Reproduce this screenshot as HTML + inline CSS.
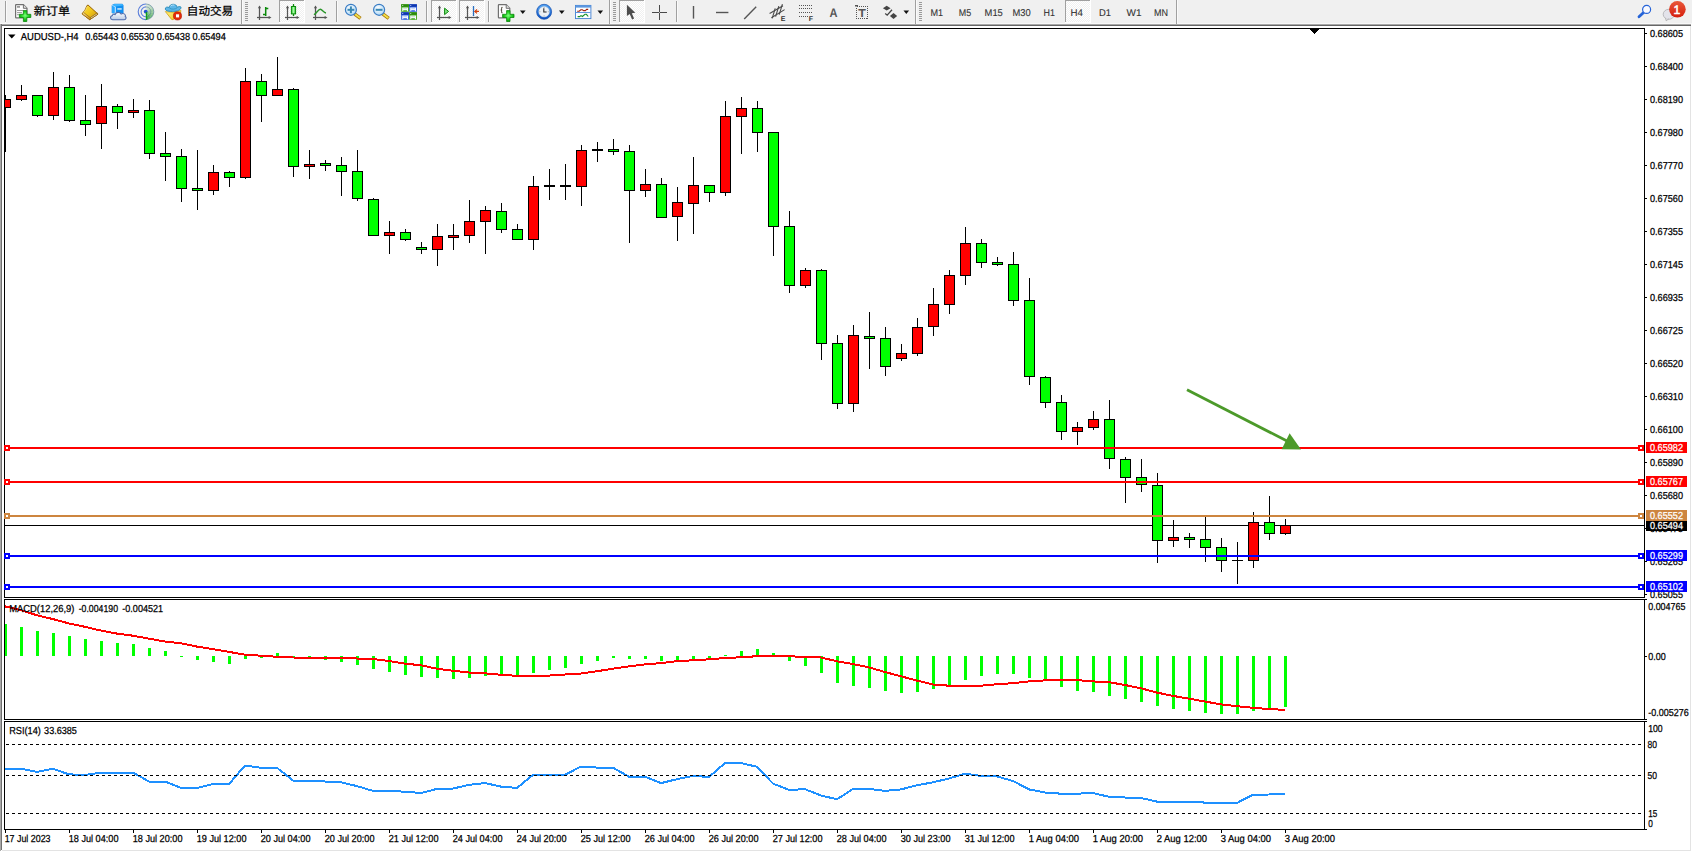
<!DOCTYPE html>
<html lang="zh-CN"><head><meta charset="utf-8"><title>AUDUSD-,H4</title>
<style>html,body{margin:0;padding:0;background:#fff;overflow:hidden}svg{display:block}text{font-family:'Liberation Sans', 'Noto Sans CJK SC', sans-serif;text-rendering:geometricPrecision;}</style>
</head><body>
<svg width="1692" height="852" viewBox="0 0 1692 852">
<rect x="0" y="0" width="1692" height="852" fill="#fff"/>
<defs>
<linearGradient id="gGold" x1="0" y1="0" x2="1" y2="1"><stop offset="0" stop-color="#f7d94a"/><stop offset="0.45" stop-color="#f2c91c"/><stop offset="1" stop-color="#c8900e"/></linearGradient>
<linearGradient id="gGreen" x1="0" y1="0" x2="0" y2="1"><stop offset="0" stop-color="#4be34b"/><stop offset="1" stop-color="#0a9a0a"/></linearGradient>
<linearGradient id="gCandle" x1="0" y1="0" x2="1" y2="0"><stop offset="0" stop-color="#22cc22"/><stop offset="0.5" stop-color="#a6f5a6"/><stop offset="1" stop-color="#22cc22"/></linearGradient>
<linearGradient id="gBlue" x1="0" y1="0" x2="0" y2="1"><stop offset="0" stop-color="#5ab4ff"/><stop offset="1" stop-color="#0a6ae0"/></linearGradient>
<linearGradient id="gCloud" x1="0" y1="0" x2="0" y2="1"><stop offset="0" stop-color="#ffffff"/><stop offset="1" stop-color="#b9cbe6"/></linearGradient>
<linearGradient id="gRed" x1="0" y1="0" x2="0" y2="1"><stop offset="0" stop-color="#e9583a"/><stop offset="1" stop-color="#d51d0c"/></linearGradient>
<linearGradient id="gBand" x1="0" y1="0" x2="0" y2="1"><stop offset="0" stop-color="#b4b4b4"/><stop offset="1" stop-color="#5f5f5f"/></linearGradient>
<radialGradient id="gLens" cx="0.4" cy="0.35" r="0.7"><stop offset="0" stop-color="#ffffff"/><stop offset="1" stop-color="#a9d6f7"/></radialGradient>
<linearGradient id="gYel" x1="0" y1="0" x2="1" y2="1"><stop offset="0" stop-color="#fff588"/><stop offset="1" stop-color="#f0c21a"/></linearGradient>
<linearGradient id="gClock" x1="0" y1="0" x2="0" y2="1"><stop offset="0" stop-color="#56a8f5"/><stop offset="1" stop-color="#0b4fc0"/></linearGradient>
<radialGradient id="gPlus" cx="0.5" cy="0.45" r="0.6"><stop offset="0" stop-color="#7dff7d"/><stop offset="0.55" stop-color="#22d022"/><stop offset="1" stop-color="#0a8f0a"/></radialGradient>
<linearGradient id="gSpine" x1="0" y1="0" x2="1" y2="1"><stop offset="0" stop-color="#fbe9a0"/><stop offset="1" stop-color="#c88a10"/></linearGradient>
<pattern id="pChk" x="0" y="0" width="2" height="2" patternUnits="userSpaceOnUse"><rect width="2" height="2" fill="#f0f0f0"/><rect x="0" y="0" width="1" height="1" fill="#fff"/><rect x="1" y="1" width="1" height="1" fill="#fff"/></pattern>
</defs>
<rect x="0" y="0" width="1692" height="24" fill="#f0f0f0"/>
<rect x="0" y="23" width="1692" height="1" fill="#f8f8f8"/>
<rect x="0" y="24" width="1691" height="1" fill="#a8a8a8"/>
<rect x="0" y="25" width="1691" height="1" fill="#666666"/>
<rect x="5" y="1" width="1" height="21" fill="#a0a0a0" shape-rendering="crispEdges"/>
<rect x="6" y="1" width="1" height="21" fill="#fafafa" shape-rendering="crispEdges"/>
<path d="M16.2 4.7 h7.2 l3.6 3.6 v9 q0 0.6 -0.6 0.6 h-10.2 q-0.6 0 -0.6 -0.6 v-12 q0 -0.6 0.6 -0.6 z" fill="#fcfcfc" stroke="#707070" stroke-width="1.2"/>
<path d="M23.4 4.7 v3.6 h3.6" fill="#dedede" stroke="#707070" stroke-width="1"/>
<rect x="17" y="6.1" width="3" height="1.6" fill="#8e8e8e"/>
<rect x="17" y="10" width="7" height="1" fill="#9a9a9a"/><rect x="17" y="12.1" width="5" height="1" fill="#9a9a9a"/><rect x="17" y="14.2" width="2.4" height="1" fill="#9a9a9a"/>
<path d="M23.4 10.6 h3.4 v3.7 h4 v3.2 h-4 v4 h-3.4 v-4 h-4 v-3.2 h4 z" fill="url(#gPlus)" stroke="#0b8c0b" stroke-width="0.8" stroke-linejoin="round"/>
<text x="33.8" y="15.4" font-size="11.4" fill="#000" stroke="#000" stroke-width="0.25" textLength="36.2" lengthAdjust="spacingAndGlyphs">新订单</text>
<path d="M88.1 5.1 L98 14.1 L89.7 19.7 L82 13.8 Q85.6 10.4 87 5.5 Z" fill="url(#gGold)" stroke="#9a6408" stroke-width="1" stroke-linejoin="round"/>
<path d="M98 14.1 L89.7 19.7 L89.6 18 L97.2 12.9 Z" fill="#e6d49a" stroke="#8a5c0a" stroke-width="0.7" stroke-linejoin="round"/>
<path d="M82.2 13.9 L89.7 19.6 L90.9 18.2 L83.6 12.5 Z" fill="url(#gSpine)" stroke="#9a6408" stroke-width="0.7" stroke-linejoin="round"/>
<path d="M87.2 6.4 Q86 10 83.6 12.5" fill="none" stroke="#fff3a8" stroke-width="0.8" opacity="0.8"/>
<path d="M112 5.2 L114.6 4.1 H122.4 L123.2 5.4 V13 H112 Z" fill="#1190f2" stroke="#1a86e6" stroke-width="0.6"/>
<path d="M112 5.2 L115.3 6.6 V13 H112 Z" fill="#2aa8ff"/>
<path d="M112.2 5.2 L115.3 6.6 V13.4" fill="none" stroke="#e8f6ff" stroke-width="0.9"/>
<path d="M112.4 5 L114.6 4.1 H122.4 L123.2 5.4 L115.3 6.4 Z" fill="#3bb4ff"/>
<rect x="117.3" y="8.3" width="4.4" height="1.3" fill="#eaf6ff"/>
<path d="M112.6 19.7 C110 19.7 109.7 16 112.3 15.6 C112.5 14.1 114.3 13.7 115.1 14.6 C115.8 12 119.9 11.4 121.1 14.1 C123 12.6 126.2 14.2 125.3 16.6 C126.7 17.4 126.1 19.7 124.2 19.7 Z" fill="url(#gCloud)" stroke="#4c6aaa" stroke-width="1.1" stroke-linejoin="round"/>
<path d="M146.00 11.80 L146.00 19.40 A7.6 7.6 0 0 0 148.72 18.90 Z" fill="#3fa64a" opacity="0.93"/>
<path d="M146.00 11.80 L148.60 18.94 A7.6 7.6 0 0 0 150.99 17.54 Z" fill="#3fa64a" opacity="0.81"/>
<path d="M146.00 11.80 L150.89 17.62 A7.6 7.6 0 0 0 152.65 15.48 Z" fill="#3fa64a" opacity="0.69"/>
<path d="M146.00 11.80 L152.58 15.60 A7.6 7.6 0 0 0 153.51 12.99 Z" fill="#3fa64a" opacity="0.58"/>
<path d="M146.00 11.80 L153.48 13.12 A7.6 7.6 0 0 0 153.46 10.35 Z" fill="#3fa64a" opacity="0.48"/>
<path d="M146.00 11.80 L153.48 10.48 A7.6 7.6 0 0 0 152.51 7.89 Z" fill="#3fa64a" opacity="0.38"/>
<path d="M146.00 11.80 L152.58 8.00 A7.6 7.6 0 0 0 150.78 5.89 Z" fill="#3fa64a" opacity="0.28"/>
<path d="M146.00 11.80 L150.89 5.98 A7.6 7.6 0 0 0 148.47 4.61 Z" fill="#3fa64a" opacity="0.20"/>
<path d="M146.00 11.80 L148.60 4.66 A7.6 7.6 0 0 0 145.87 4.20 Z" fill="#3fa64a" opacity="0.13"/>
<g fill="none">
<path d="M146 4 A7.8 7.8 0 0 0 146 19.6" stroke="#3f6ad6" stroke-width="1.1" opacity="0.85" stroke-dasharray="6 0"/>
<path d="M146 6.9 A4.9 4.9 0 0 0 146 16.7" stroke="#3f6ad6" stroke-width="1.1" opacity="0.8"/>
<path d="M146 4 A7.8 7.8 0 0 1 146 19.6" stroke="#3a6f86" stroke-width="1" opacity="0.55"/>
<path d="M146 6.9 A4.9 4.9 0 0 1 146 16.7" stroke="#3a6f86" stroke-width="1" opacity="0.45"/>
</g>
<circle cx="145.7" cy="11.6" r="1.9" fill="#2453d4"/>
<rect x="145.8" y="12" width="1.3" height="7.8" fill="#12a01c"/>
<path d="M165.4 11.6 Q173 13.6 180.8 10.4 L180.6 13 L173 19.7 L171.6 19.4 Z" fill="url(#gYel)" stroke="#d2a010" stroke-width="0.8" stroke-linejoin="round"/>
<path d="M165.3 9.2 C165 7 167.6 6.6 169.2 7.6 C169.4 3.2 176.8 3.2 177.2 7.4 C178.6 6.2 181.4 6.2 181 8 C180.2 10.6 175.6 11.6 172.4 11.4 C169.4 11.4 165.8 11.2 165.3 9.2 Z" fill="#5db6e8" stroke="#2788b6" stroke-width="0.9" stroke-linejoin="round"/>
<path d="M169.6 8.2 C171.4 9.6 175.4 9.4 177 7.8" fill="none" stroke="#2788b6" stroke-width="0.7"/>
<path d="M170.6 6 Q172.2 4.6 174.4 5" fill="none" stroke="#bfe4fa" stroke-width="0.9"/>
<circle cx="177.5" cy="15.9" r="4.1" fill="#e22a0a" stroke="#b41a04" stroke-width="0.6"/>
<rect x="176" y="14.3" width="3.1" height="3.1" fill="#fff"/>
<text x="186.8" y="15.4" font-size="11.4" fill="#000" stroke="#000" stroke-width="0.25" textLength="46.4" lengthAdjust="spacingAndGlyphs">自动交易</text>
<rect x="241" y="0" width="1" height="24" fill="#a0a0a0" shape-rendering="crispEdges"/>
<rect x="242" y="0" width="1" height="24" fill="#fafafa" shape-rendering="crispEdges"/>
<rect x="245" y="2" width="3" height="1" fill="#9a9a9a" shape-rendering="crispEdges"/>
<rect x="245" y="4" width="3" height="1" fill="#9a9a9a" shape-rendering="crispEdges"/>
<rect x="245" y="6" width="3" height="1" fill="#9a9a9a" shape-rendering="crispEdges"/>
<rect x="245" y="8" width="3" height="1" fill="#9a9a9a" shape-rendering="crispEdges"/>
<rect x="245" y="10" width="3" height="1" fill="#9a9a9a" shape-rendering="crispEdges"/>
<rect x="245" y="12" width="3" height="1" fill="#9a9a9a" shape-rendering="crispEdges"/>
<rect x="245" y="14" width="3" height="1" fill="#9a9a9a" shape-rendering="crispEdges"/>
<rect x="245" y="16" width="3" height="1" fill="#9a9a9a" shape-rendering="crispEdges"/>
<rect x="245" y="18" width="3" height="1" fill="#9a9a9a" shape-rendering="crispEdges"/>
<rect x="245" y="20" width="3" height="1" fill="#9a9a9a" shape-rendering="crispEdges"/>
<g stroke="#555" stroke-width="1.25" fill="#555">
<line x1="259.5" y1="6.6" x2="259.5" y2="20"/>
<line x1="257" y1="17.5" x2="270" y2="17.5"/>
<polygon points="257.9,8.3 259.5,5.5 261.1,8.3" stroke="none"/>
<polygon points="268.6,15.9 271.5,17.5 268.6,19.1" stroke="none"/>
</g>
<g stroke="#0b8a0b" stroke-width="1.5" fill="none"><line x1="265.7" y1="7" x2="265.7" y2="16"/><line x1="265.7" y1="8.5" x2="268.3" y2="8.5"/><line x1="263" y1="14.5" x2="265.7" y2="14.5"/></g>
<g shape-rendering="crispEdges">
<rect x="279" y="0" width="26" height="23" fill="url(#pChk)"/>
<rect x="279" y="0" width="25" height="1" fill="#a0a0a0"/>
<rect x="279" y="0" width="1" height="22" fill="#a0a0a0"/>
<rect x="304" y="0" width="1" height="23" fill="#ffffff"/>
<rect x="279" y="22" width="26" height="1" fill="#ffffff"/>
</g>
<g stroke="#555" stroke-width="1.25" fill="#555">
<line x1="287.5" y1="6.6" x2="287.5" y2="20"/>
<line x1="285" y1="17.5" x2="298" y2="17.5"/>
<polygon points="285.9,8.3 287.5,5.5 289.1,8.3" stroke="none"/>
<polygon points="296.6,15.9 299.5,17.5 296.6,19.1" stroke="none"/>
</g>
<line x1="293.5" y1="4" x2="293.5" y2="16" stroke="#0b8a0b" stroke-width="1.3"/>
<rect x="291.4" y="6.5" width="4.2" height="7.4" fill="url(#gCandle)" stroke="#0b8a0b" stroke-width="1"/>
<g stroke="#555" stroke-width="1.25" fill="#555">
<line x1="315.5" y1="6.6" x2="315.5" y2="20"/>
<line x1="313" y1="17.5" x2="326" y2="17.5"/>
<polygon points="313.9,8.3 315.5,5.5 317.1,8.3" stroke="none"/>
<polygon points="324.6,15.9 327.5,17.5 324.6,19.1" stroke="none"/>
</g>
<path d="M314 14.8 C317 12.5 318.5 9.2 320.3 9.3 C322.3 9.4 323.5 12.6 326 13" fill="none" stroke="#2a962a" stroke-width="1.4"/>
<rect x="336" y="1" width="1" height="21" fill="#a0a0a0" shape-rendering="crispEdges"/>
<rect x="337" y="1" width="1" height="21" fill="#fafafa" shape-rendering="crispEdges"/>
<line x1="354.5" y1="13.8" x2="360.5" y2="18.4" stroke="#a87408" stroke-width="3.4" stroke-linecap="butt"/>
<line x1="355.09999999999997" y1="14.2" x2="360.09999999999997" y2="18.1" stroke="#f2e04a" stroke-width="1.9" stroke-linecap="butt"/>
<circle cx="350.9" cy="9.8" r="5.5" fill="url(#gLens)" stroke="#3a7cc4" stroke-width="1.2"/>
<rect x="347.5" y="8.8" width="6.8" height="2" fill="#3a88b4"/>
<rect x="349.9" y="6.4" width="2" height="6.8" fill="#3a88b4"/>
<line x1="382.70000000000005" y1="13.8" x2="388.70000000000005" y2="18.4" stroke="#a87408" stroke-width="3.4" stroke-linecap="butt"/>
<line x1="383.3" y1="14.2" x2="388.3" y2="18.1" stroke="#f2e04a" stroke-width="1.9" stroke-linecap="butt"/>
<circle cx="379.1" cy="9.8" r="5.5" fill="url(#gLens)" stroke="#3a7cc4" stroke-width="1.2"/>
<rect x="375.70000000000005" y="8.8" width="6.8" height="2" fill="#3a88b4"/>
<rect x="401.2" y="4.3" width="7.7" height="7.5" fill="#3da516"/>
<rect x="401.2" y="4.3" width="7.7" height="2.4" fill="#2c8a0a"/>
<rect x="402.3" y="5.1" width="0.9" height="0.9" fill="#e8f0ff"/>
<path d="M402.2 7.4 h5.8 v3.8 h-1.1 v-0.9 h-3.6 v0.9 h-1.1 z" fill="#f6f9ff"/>
<rect x="403.3" y="8.5" width="3.6" height="0.6" fill="#3da516" opacity="0.45"/>
<rect x="409.2" y="4.3" width="7.7" height="7.5" fill="#2a5cdc"/>
<rect x="409.2" y="4.3" width="7.7" height="2.4" fill="#0f36ae"/>
<rect x="410.3" y="5.1" width="0.9" height="0.9" fill="#e8f0ff"/>
<path d="M410.2 7.4 h5.8 v3.8 h-1.1 v-0.9 h-3.6 v0.9 h-1.1 z" fill="#f6f9ff"/>
<rect x="411.3" y="8.5" width="3.6" height="0.6" fill="#2a5cdc" opacity="0.45"/>
<rect x="401.2" y="12.3" width="7.7" height="7.5" fill="#2a5cdc"/>
<rect x="401.2" y="12.3" width="7.7" height="2.4" fill="#0f36ae"/>
<rect x="402.3" y="13.100000000000001" width="0.9" height="0.9" fill="#e8f0ff"/>
<path d="M402.2 15.4 h5.8 v3.8 h-1.1 v-0.9 h-3.6 v0.9 h-1.1 z" fill="#f6f9ff"/>
<rect x="403.3" y="16.5" width="3.6" height="0.6" fill="#2a5cdc" opacity="0.45"/>
<rect x="409.2" y="12.3" width="7.7" height="7.5" fill="#3da516"/>
<rect x="409.2" y="12.3" width="7.7" height="2.4" fill="#2c8a0a"/>
<rect x="410.3" y="13.100000000000001" width="0.9" height="0.9" fill="#e8f0ff"/>
<path d="M410.2 15.4 h5.8 v3.8 h-1.1 v-0.9 h-3.6 v0.9 h-1.1 z" fill="#f6f9ff"/>
<rect x="411.3" y="16.5" width="3.6" height="0.6" fill="#3da516" opacity="0.45"/>
<rect x="426" y="1" width="1" height="21" fill="#a0a0a0" shape-rendering="crispEdges"/>
<rect x="427" y="1" width="1" height="21" fill="#fafafa" shape-rendering="crispEdges"/>
<g shape-rendering="crispEdges">
<rect x="431" y="0" width="26" height="23" fill="url(#pChk)"/>
<rect x="431" y="0" width="25" height="1" fill="#a0a0a0"/>
<rect x="431" y="0" width="1" height="22" fill="#a0a0a0"/>
<rect x="456" y="0" width="1" height="23" fill="#ffffff"/>
<rect x="431" y="22" width="26" height="1" fill="#ffffff"/>
</g>
<g stroke="#555" stroke-width="1.25" fill="#555">
<line x1="439.5" y1="6.6" x2="439.5" y2="20"/>
<line x1="437" y1="17.5" x2="450" y2="17.5"/>
<polygon points="437.9,8.3 439.5,5.5 441.1,8.3" stroke="none"/>
<polygon points="448.6,15.9 451.5,17.5 448.6,19.1" stroke="none"/>
</g>
<polygon points="444.6,8.2 444.6,14.6 448.6,11.4" fill="#7fe07f" stroke="#0b8a0b" stroke-width="1"/>
<g shape-rendering="crispEdges">
<rect x="459" y="0" width="26" height="23" fill="url(#pChk)"/>
<rect x="459" y="0" width="25" height="1" fill="#a0a0a0"/>
<rect x="459" y="0" width="1" height="22" fill="#a0a0a0"/>
<rect x="484" y="0" width="1" height="23" fill="#ffffff"/>
<rect x="459" y="22" width="26" height="1" fill="#ffffff"/>
</g>
<g stroke="#555" stroke-width="1.25" fill="#555">
<line x1="467.5" y1="6.6" x2="467.5" y2="20"/>
<line x1="465" y1="17.5" x2="478" y2="17.5"/>
<polygon points="465.9,8.3 467.5,5.5 469.1,8.3" stroke="none"/>
<polygon points="476.6,15.9 479.5,17.5 476.6,19.1" stroke="none"/>
</g>
<line x1="473.5" y1="6" x2="473.5" y2="16" stroke="#2a6fc0" stroke-width="1.3"/>
<path d="M479 11.4 h-4 M477 9.4 l-2.2 2 l2.2 2" stroke="#d4430f" stroke-width="1.2" fill="none"/>
<rect x="488" y="1" width="1" height="21" fill="#a0a0a0" shape-rendering="crispEdges"/>
<rect x="489" y="1" width="1" height="21" fill="#fafafa" shape-rendering="crispEdges"/>
<path d="M499.0 4.7 h7.2 l3.6 3.6 v9 q0 0.6 -0.6 0.6 h-10.2 q-0.6 0 -0.6 -0.6 v-12 q0 -0.6 0.6 -0.6 z" fill="#fcfcfc" stroke="#707070" stroke-width="1.2"/>
<path d="M506.2 4.7 v3.6 h3.6" fill="#dedede" stroke="#707070" stroke-width="1"/>
<path d="M502.6 7.4 h-1 v2.6 h-0.8 h0.8 v2.8 h1" fill="none" stroke="#4a4438" stroke-width="0.9"/>
<path d="M506.6 10.6 h3.4 v3.7 h4 v3.2 h-4 v4 h-3.4 v-4 h-4 v-3.2 h4 z" fill="url(#gPlus)" stroke="#0b8c0b" stroke-width="0.8" stroke-linejoin="round"/>
<polygon points="520,10.6 525.6,10.6 522.8,13.9" fill="#111"/>
<circle cx="544.1" cy="11.8" r="7.5" fill="url(#gClock)" stroke="#0d49ad" stroke-width="0.7"/>
<circle cx="544.1" cy="11.7" r="5.3" fill="#eef1f5" stroke="#c9d2de" stroke-width="0.5"/>
<g stroke="#8a8f98" stroke-width="0.7"><line x1="544.1" y1="7" x2="544.1" y2="8"/><line x1="544.1" y1="15.4" x2="544.1" y2="16.4"/><line x1="539.4" y1="11.7" x2="540.4" y2="11.7"/><line x1="547.8" y1="11.7" x2="548.8" y2="11.7"/></g>
<path d="M543.8 8.2 v3.8 h2.8" stroke="#2a2a2a" stroke-width="1.1" fill="none"/>
<polygon points="559,10.6 564.6,10.6 561.8,13.9" fill="#111"/>
<rect x="575.5" y="5.4" width="15.4" height="13.2" fill="#fdfeff" stroke="#3f7fd0" stroke-width="0.9"/>
<rect x="575.5" y="5.4" width="15.4" height="2.2" fill="#5b97e0"/>
<rect x="576" y="12.1" width="14.4" height="0.9" fill="#4f8ad8"/>
<path d="M577.2 11.2 h2 l1.6 -1.4 h1.6 l1.2 0.8 h1.8 l1.2 -1.2 h1.6" fill="none" stroke="#a3240e" stroke-width="1.1"/>
<path d="M577.6 16.6 h2 l1.4 -1 l1.4 0.9 l2.6 -2.2 l1.4 0 l1.8 2.2" fill="none" stroke="#17912a" stroke-width="1.1"/>
<polygon points="597.5,10.6 603.1,10.6 600.3,13.9" fill="#111"/>
<rect x="609" y="0" width="1" height="24" fill="#a0a0a0" shape-rendering="crispEdges"/>
<rect x="610" y="0" width="1" height="24" fill="#fafafa" shape-rendering="crispEdges"/>
<rect x="613" y="2" width="3" height="1" fill="#9a9a9a" shape-rendering="crispEdges"/>
<rect x="613" y="4" width="3" height="1" fill="#9a9a9a" shape-rendering="crispEdges"/>
<rect x="613" y="6" width="3" height="1" fill="#9a9a9a" shape-rendering="crispEdges"/>
<rect x="613" y="8" width="3" height="1" fill="#9a9a9a" shape-rendering="crispEdges"/>
<rect x="613" y="10" width="3" height="1" fill="#9a9a9a" shape-rendering="crispEdges"/>
<rect x="613" y="12" width="3" height="1" fill="#9a9a9a" shape-rendering="crispEdges"/>
<rect x="613" y="14" width="3" height="1" fill="#9a9a9a" shape-rendering="crispEdges"/>
<rect x="613" y="16" width="3" height="1" fill="#9a9a9a" shape-rendering="crispEdges"/>
<rect x="613" y="18" width="3" height="1" fill="#9a9a9a" shape-rendering="crispEdges"/>
<rect x="613" y="20" width="3" height="1" fill="#9a9a9a" shape-rendering="crispEdges"/>
<g shape-rendering="crispEdges">
<rect x="619" y="0" width="26" height="23" fill="url(#pChk)"/>
<rect x="619" y="0" width="25" height="1" fill="#a0a0a0"/>
<rect x="619" y="0" width="1" height="22" fill="#a0a0a0"/>
<rect x="644" y="0" width="1" height="23" fill="#ffffff"/>
<rect x="619" y="22" width="26" height="1" fill="#ffffff"/>
</g>
<path d="M626.9 4.8 L626.9 16 L629.7 14 L632.1 19.4 L634.1 18.5 L631.8 13.2 L635.3 12.7 z" fill="#4d4d4d"/>
<g stroke="#4a4a4a" stroke-width="1.05"><line x1="659.5" y1="5" x2="659.5" y2="20"/><line x1="652" y1="12.5" x2="667" y2="12.5"/></g><rect x="659" y="12" width="1" height="1" fill="#bbb"/>
<rect x="676" y="1" width="1" height="21" fill="#a0a0a0" shape-rendering="crispEdges"/>
<rect x="677" y="1" width="1" height="21" fill="#fafafa" shape-rendering="crispEdges"/>
<g stroke="#555" stroke-width="1.4">
<line x1="693.5" y1="6" x2="693.5" y2="18.6"/>
<line x1="716" y1="12.5" x2="728.4" y2="12.5"/>
<line x1="744.2" y1="19" x2="756.2" y2="6.8"/>
</g>
<g stroke="#4a4a4a" stroke-width="1.1" fill="none">
<line x1="769.6" y1="13.6" x2="783" y2="5.8"/><line x1="771.4" y1="17.8" x2="784.6" y2="9.6"/>
<line x1="772.2" y1="18.4" x2="775.2" y2="8.4"/><line x1="775.6" y1="16.6" x2="778.8" y2="6.2"/><line x1="779.2" y1="14.6" x2="782.4" y2="4.2"/>
</g>
<text x="780.8" y="20.9" font-size="7" font-weight="bold" fill="#333">E</text>
<g stroke="#555" stroke-width="1" stroke-dasharray="1 1" shape-rendering="crispEdges">
<line x1="799" y1="5.5" x2="812.5" y2="5.5"/>
<line x1="799" y1="8.5" x2="812.5" y2="8.5"/>
<line x1="799" y1="12.5" x2="812.5" y2="12.5"/>
<line x1="799" y1="16.5" x2="808" y2="16.5"/>
</g>
<text x="808.8" y="20.9" font-size="7" font-weight="bold" fill="#333">F</text>
<text x="829.6" y="17" font-size="12.5" font-weight="bold" fill="#555" textLength="8" lengthAdjust="spacingAndGlyphs">A</text>
<rect x="856.5" y="6.5" width="11" height="12" fill="none" stroke="#555" stroke-width="1" stroke-dasharray="1 1" shape-rendering="crispEdges"/>
<rect x="855" y="5" width="3" height="1.5" fill="#555"/>
<text x="858.2" y="17" font-size="11.5" font-weight="bold" fill="#555" textLength="7.6" lengthAdjust="spacingAndGlyphs">T</text>
<polygon points="886.7,5.8 890.6,8.3 886.7,10.6 882.9,8.3" fill="#444"/>
<path d="M885.2 13.4 l2 1.8 l4.8 -5.4" fill="none" stroke="#444" stroke-width="1.3"/>
<polygon points="893.5,13 897.2,16 893.5,19 889.9,16" fill="#444"/>
<polygon points="903.5,10.6 909.1,10.6 906.3,13.9" fill="#111"/>
<rect x="915" y="0" width="1" height="24" fill="#a0a0a0" shape-rendering="crispEdges"/>
<rect x="916" y="0" width="1" height="24" fill="#fafafa" shape-rendering="crispEdges"/>
<rect x="919" y="2" width="3" height="1" fill="#9a9a9a" shape-rendering="crispEdges"/>
<rect x="919" y="4" width="3" height="1" fill="#9a9a9a" shape-rendering="crispEdges"/>
<rect x="919" y="6" width="3" height="1" fill="#9a9a9a" shape-rendering="crispEdges"/>
<rect x="919" y="8" width="3" height="1" fill="#9a9a9a" shape-rendering="crispEdges"/>
<rect x="919" y="10" width="3" height="1" fill="#9a9a9a" shape-rendering="crispEdges"/>
<rect x="919" y="12" width="3" height="1" fill="#9a9a9a" shape-rendering="crispEdges"/>
<rect x="919" y="14" width="3" height="1" fill="#9a9a9a" shape-rendering="crispEdges"/>
<rect x="919" y="16" width="3" height="1" fill="#9a9a9a" shape-rendering="crispEdges"/>
<rect x="919" y="18" width="3" height="1" fill="#9a9a9a" shape-rendering="crispEdges"/>
<rect x="919" y="20" width="3" height="1" fill="#9a9a9a" shape-rendering="crispEdges"/>
<g shape-rendering="crispEdges"><rect x="1065" y="0" width="26" height="23" fill="url(#pChk)"/><rect x="1065" y="0" width="25" height="1" fill="#a0a0a0"/><rect x="1065" y="0" width="1" height="22" fill="#a0a0a0"/><rect x="1090" y="0" width="1" height="23" fill="#fff"/><rect x="1065" y="22" width="26" height="1" fill="#fff"/></g>
<text x="930.5" y="16" font-size="9.9" fill="#333" stroke="#333" stroke-width="0.1" textLength="12.6" lengthAdjust="spacingAndGlyphs">M1</text>
<text x="958.8" y="16" font-size="9.9" fill="#333" stroke="#333" stroke-width="0.1" textLength="12.4" lengthAdjust="spacingAndGlyphs">M5</text>
<text x="984.6" y="16" font-size="9.9" fill="#333" stroke="#333" stroke-width="0.1" textLength="18.2" lengthAdjust="spacingAndGlyphs">M15</text>
<text x="1012.4" y="16" font-size="9.9" fill="#333" stroke="#333" stroke-width="0.1" textLength="18.2" lengthAdjust="spacingAndGlyphs">M30</text>
<text x="1043.6" y="16" font-size="9.9" fill="#333" stroke="#333" stroke-width="0.1" textLength="11.4" lengthAdjust="spacingAndGlyphs">H1</text>
<text x="1070.6" y="16" font-size="9.9" fill="#333" stroke="#333" stroke-width="0.1" textLength="12.4" lengthAdjust="spacingAndGlyphs">H4</text>
<text x="1099" y="16" font-size="9.9" fill="#333" stroke="#333" stroke-width="0.1" textLength="12" lengthAdjust="spacingAndGlyphs">D1</text>
<text x="1126.6" y="16" font-size="9.9" fill="#333" stroke="#333" stroke-width="0.1" textLength="15" lengthAdjust="spacingAndGlyphs">W1</text>
<text x="1154" y="16" font-size="9.9" fill="#333" stroke="#333" stroke-width="0.1" textLength="14" lengthAdjust="spacingAndGlyphs">MN</text>
<rect x="1176" y="0" width="1" height="24" fill="#a0a0a0" shape-rendering="crispEdges"/><rect x="1177" y="0" width="1" height="24" fill="#fafafa" shape-rendering="crispEdges"/>
<line x1="1643.6" y1="12.4" x2="1639" y2="16.8" stroke="#2563d8" stroke-width="2.8" stroke-linecap="round"/>
<circle cx="1646.6" cy="9.4" r="4" fill="#f8f9ff" stroke="#2563d8" stroke-width="1.2"/>
<ellipse cx="1668.8" cy="14.3" rx="5.6" ry="5" fill="#e3e3ea" stroke="#b4b4b8" stroke-width="0.9"/>
<path d="M1665.6 18.2 l0.6 2.6 l2.6 -2" fill="#e3e3ea" stroke="#a8a8a8" stroke-width="0.8"/>
<circle cx="1677.4" cy="9.3" r="8.3" fill="url(#gRed)"/>
<text x="1673.4" y="13.9" font-size="12.2" fill="#fff" stroke="#fff" stroke-width="0.5">1</text>
<g shape-rendering="crispEdges">
<rect x="0" y="24" width="1" height="827" fill="#a8a8a8"/>
<rect x="1" y="24" width="1" height="826" fill="#707070"/>
<rect x="1690" y="26" width="1" height="825" fill="#e3e3e3"/>
<rect x="2" y="850" width="1689" height="1" fill="#e3e3e3"/>
</g>
<g shape-rendering="crispEdges">
<rect x="5" y="525" width="1639" height="1" fill="#000"/>
<rect x="5" y="95" width="1" height="57" fill="#000"/>
<rect x="5" y="99" width="6" height="9" fill="#000"/>
<rect x="5" y="100" width="5" height="7" fill="#ff0000"/>
<rect x="21" y="85" width="1" height="16" fill="#000"/>
<rect x="16" y="95" width="11" height="5" fill="#000"/>
<rect x="17" y="96" width="9" height="3" fill="#ff0000"/>
<rect x="37" y="95" width="1" height="22" fill="#000"/>
<rect x="32" y="95" width="11" height="21" fill="#000"/>
<rect x="33" y="96" width="9" height="19" fill="#00ff00"/>
<rect x="53" y="72" width="1" height="48" fill="#000"/>
<rect x="48" y="87" width="11" height="29" fill="#000"/>
<rect x="49" y="88" width="9" height="27" fill="#ff0000"/>
<rect x="69" y="75" width="1" height="47" fill="#000"/>
<rect x="64" y="87" width="11" height="34" fill="#000"/>
<rect x="65" y="88" width="9" height="32" fill="#00ff00"/>
<rect x="85" y="95" width="1" height="41" fill="#000"/>
<rect x="80" y="120" width="11" height="5" fill="#000"/>
<rect x="81" y="121" width="9" height="3" fill="#00ff00"/>
<rect x="101" y="84" width="1" height="65" fill="#000"/>
<rect x="96" y="106" width="11" height="18" fill="#000"/>
<rect x="97" y="107" width="9" height="16" fill="#ff0000"/>
<rect x="117" y="104" width="1" height="25" fill="#000"/>
<rect x="112" y="106" width="11" height="7" fill="#000"/>
<rect x="113" y="107" width="9" height="5" fill="#00ff00"/>
<rect x="133" y="99" width="1" height="19" fill="#000"/>
<rect x="128" y="110" width="11" height="3" fill="#000"/>
<rect x="129" y="111" width="9" height="1" fill="#ff0000"/>
<rect x="149" y="100" width="1" height="59" fill="#000"/>
<rect x="144" y="110" width="11" height="44" fill="#000"/>
<rect x="145" y="111" width="9" height="42" fill="#00ff00"/>
<rect x="165" y="132" width="1" height="49" fill="#000"/>
<rect x="160" y="153" width="11" height="4" fill="#000"/>
<rect x="161" y="154" width="9" height="2" fill="#00ff00"/>
<rect x="181" y="149" width="1" height="53" fill="#000"/>
<rect x="176" y="156" width="11" height="33" fill="#000"/>
<rect x="177" y="157" width="9" height="31" fill="#00ff00"/>
<rect x="197" y="150" width="1" height="60" fill="#000"/>
<rect x="192" y="188" width="11" height="3" fill="#000"/>
<rect x="193" y="189" width="9" height="1" fill="#00ff00"/>
<rect x="213" y="165" width="1" height="30" fill="#000"/>
<rect x="208" y="172" width="11" height="19" fill="#000"/>
<rect x="209" y="173" width="9" height="17" fill="#ff0000"/>
<rect x="229" y="171" width="1" height="16" fill="#000"/>
<rect x="224" y="172" width="11" height="6" fill="#000"/>
<rect x="225" y="173" width="9" height="4" fill="#00ff00"/>
<rect x="245" y="68" width="1" height="111" fill="#000"/>
<rect x="240" y="81" width="11" height="97" fill="#000"/>
<rect x="241" y="82" width="9" height="95" fill="#ff0000"/>
<rect x="261" y="74" width="1" height="48" fill="#000"/>
<rect x="256" y="81" width="11" height="15" fill="#000"/>
<rect x="257" y="82" width="9" height="13" fill="#00ff00"/>
<rect x="277" y="57" width="1" height="39" fill="#000"/>
<rect x="272" y="89" width="11" height="7" fill="#000"/>
<rect x="273" y="90" width="9" height="5" fill="#ff0000"/>
<rect x="293" y="88" width="1" height="89" fill="#000"/>
<rect x="288" y="89" width="11" height="78" fill="#000"/>
<rect x="289" y="90" width="9" height="76" fill="#00ff00"/>
<rect x="309" y="150" width="1" height="29" fill="#000"/>
<rect x="304" y="164" width="11" height="3" fill="#000"/>
<rect x="305" y="165" width="9" height="1" fill="#ff0000"/>
<rect x="325" y="160" width="1" height="11" fill="#000"/>
<rect x="320" y="163" width="11" height="3" fill="#000"/>
<rect x="321" y="164" width="9" height="1" fill="#00ff00"/>
<rect x="341" y="157" width="1" height="39" fill="#000"/>
<rect x="336" y="165" width="11" height="7" fill="#000"/>
<rect x="337" y="166" width="9" height="5" fill="#00ff00"/>
<rect x="357" y="150" width="1" height="51" fill="#000"/>
<rect x="352" y="171" width="11" height="28" fill="#000"/>
<rect x="353" y="172" width="9" height="26" fill="#00ff00"/>
<rect x="373" y="198" width="1" height="37" fill="#000"/>
<rect x="368" y="199" width="11" height="37" fill="#000"/>
<rect x="369" y="200" width="9" height="35" fill="#00ff00"/>
<rect x="389" y="221" width="1" height="33" fill="#000"/>
<rect x="384" y="232" width="11" height="4" fill="#000"/>
<rect x="385" y="233" width="9" height="2" fill="#ff0000"/>
<rect x="405" y="229" width="1" height="12" fill="#000"/>
<rect x="400" y="232" width="11" height="8" fill="#000"/>
<rect x="401" y="233" width="9" height="6" fill="#00ff00"/>
<rect x="421" y="242" width="1" height="12" fill="#000"/>
<rect x="416" y="247" width="11" height="3" fill="#000"/>
<rect x="417" y="248" width="9" height="1" fill="#00ff00"/>
<rect x="437" y="224" width="1" height="42" fill="#000"/>
<rect x="432" y="236" width="11" height="14" fill="#000"/>
<rect x="433" y="237" width="9" height="12" fill="#ff0000"/>
<rect x="453" y="224" width="1" height="26" fill="#000"/>
<rect x="448" y="235" width="11" height="3" fill="#000"/>
<rect x="449" y="236" width="9" height="1" fill="#ff0000"/>
<rect x="469" y="200" width="1" height="43" fill="#000"/>
<rect x="464" y="221" width="11" height="15" fill="#000"/>
<rect x="465" y="222" width="9" height="13" fill="#ff0000"/>
<rect x="485" y="206" width="1" height="48" fill="#000"/>
<rect x="480" y="210" width="11" height="12" fill="#000"/>
<rect x="481" y="211" width="9" height="10" fill="#ff0000"/>
<rect x="501" y="203" width="1" height="30" fill="#000"/>
<rect x="496" y="211" width="11" height="19" fill="#000"/>
<rect x="497" y="212" width="9" height="17" fill="#00ff00"/>
<rect x="517" y="224" width="1" height="16" fill="#000"/>
<rect x="512" y="229" width="11" height="11" fill="#000"/>
<rect x="513" y="230" width="9" height="9" fill="#00ff00"/>
<rect x="533" y="176" width="1" height="74" fill="#000"/>
<rect x="528" y="186" width="11" height="54" fill="#000"/>
<rect x="529" y="187" width="9" height="52" fill="#ff0000"/>
<rect x="549" y="169" width="1" height="31" fill="#000"/>
<rect x="544" y="185" width="11" height="2" fill="#000"/>
<rect x="565" y="164" width="1" height="36" fill="#000"/>
<rect x="560" y="185" width="11" height="2" fill="#000"/>
<rect x="581" y="145" width="1" height="61" fill="#000"/>
<rect x="576" y="150" width="11" height="37" fill="#000"/>
<rect x="577" y="151" width="9" height="35" fill="#ff0000"/>
<rect x="597" y="142" width="1" height="20" fill="#000"/>
<rect x="592" y="149" width="11" height="2" fill="#000"/>
<rect x="613" y="139" width="1" height="16" fill="#000"/>
<rect x="608" y="149" width="11" height="3" fill="#000"/>
<rect x="609" y="150" width="9" height="1" fill="#00ff00"/>
<rect x="629" y="145" width="1" height="98" fill="#000"/>
<rect x="624" y="151" width="11" height="40" fill="#000"/>
<rect x="625" y="152" width="9" height="38" fill="#00ff00"/>
<rect x="645" y="169" width="1" height="28" fill="#000"/>
<rect x="640" y="184" width="11" height="7" fill="#000"/>
<rect x="641" y="185" width="9" height="5" fill="#ff0000"/>
<rect x="661" y="178" width="1" height="40" fill="#000"/>
<rect x="656" y="184" width="11" height="34" fill="#000"/>
<rect x="657" y="185" width="9" height="32" fill="#00ff00"/>
<rect x="677" y="187" width="1" height="54" fill="#000"/>
<rect x="672" y="202" width="11" height="15" fill="#000"/>
<rect x="673" y="203" width="9" height="13" fill="#ff0000"/>
<rect x="693" y="157" width="1" height="77" fill="#000"/>
<rect x="688" y="185" width="11" height="19" fill="#000"/>
<rect x="689" y="186" width="9" height="17" fill="#ff0000"/>
<rect x="709" y="185" width="1" height="17" fill="#000"/>
<rect x="704" y="185" width="11" height="8" fill="#000"/>
<rect x="705" y="186" width="9" height="6" fill="#00ff00"/>
<rect x="725" y="101" width="1" height="95" fill="#000"/>
<rect x="720" y="116" width="11" height="77" fill="#000"/>
<rect x="721" y="117" width="9" height="75" fill="#ff0000"/>
<rect x="741" y="97" width="1" height="57" fill="#000"/>
<rect x="736" y="108" width="11" height="9" fill="#000"/>
<rect x="737" y="109" width="9" height="7" fill="#ff0000"/>
<rect x="757" y="101" width="1" height="51" fill="#000"/>
<rect x="752" y="108" width="11" height="25" fill="#000"/>
<rect x="753" y="109" width="9" height="23" fill="#00ff00"/>
<rect x="773" y="132" width="1" height="124" fill="#000"/>
<rect x="768" y="132" width="11" height="95" fill="#000"/>
<rect x="769" y="133" width="9" height="93" fill="#00ff00"/>
<rect x="789" y="211" width="1" height="82" fill="#000"/>
<rect x="784" y="226" width="11" height="60" fill="#000"/>
<rect x="785" y="227" width="9" height="58" fill="#00ff00"/>
<rect x="805" y="268" width="1" height="20" fill="#000"/>
<rect x="800" y="270" width="11" height="16" fill="#000"/>
<rect x="801" y="271" width="9" height="14" fill="#ff0000"/>
<rect x="821" y="269" width="1" height="91" fill="#000"/>
<rect x="816" y="270" width="11" height="74" fill="#000"/>
<rect x="817" y="271" width="9" height="72" fill="#00ff00"/>
<rect x="837" y="335" width="1" height="74" fill="#000"/>
<rect x="832" y="343" width="11" height="61" fill="#000"/>
<rect x="833" y="344" width="9" height="59" fill="#00ff00"/>
<rect x="853" y="325" width="1" height="87" fill="#000"/>
<rect x="848" y="335" width="11" height="69" fill="#000"/>
<rect x="849" y="336" width="9" height="67" fill="#ff0000"/>
<rect x="869" y="312" width="1" height="57" fill="#000"/>
<rect x="864" y="336" width="11" height="3" fill="#000"/>
<rect x="865" y="337" width="9" height="1" fill="#00ff00"/>
<rect x="885" y="327" width="1" height="49" fill="#000"/>
<rect x="880" y="338" width="11" height="29" fill="#000"/>
<rect x="881" y="339" width="9" height="27" fill="#00ff00"/>
<rect x="901" y="344" width="1" height="17" fill="#000"/>
<rect x="896" y="353" width="11" height="6" fill="#000"/>
<rect x="897" y="354" width="9" height="4" fill="#ff0000"/>
<rect x="917" y="318" width="1" height="38" fill="#000"/>
<rect x="912" y="327" width="11" height="27" fill="#000"/>
<rect x="913" y="328" width="9" height="25" fill="#ff0000"/>
<rect x="933" y="288" width="1" height="48" fill="#000"/>
<rect x="928" y="304" width="11" height="23" fill="#000"/>
<rect x="929" y="305" width="9" height="21" fill="#ff0000"/>
<rect x="949" y="270" width="1" height="44" fill="#000"/>
<rect x="944" y="275" width="11" height="30" fill="#000"/>
<rect x="945" y="276" width="9" height="28" fill="#ff0000"/>
<rect x="965" y="227" width="1" height="58" fill="#000"/>
<rect x="960" y="243" width="11" height="33" fill="#000"/>
<rect x="961" y="244" width="9" height="31" fill="#ff0000"/>
<rect x="981" y="239" width="1" height="29" fill="#000"/>
<rect x="976" y="243" width="11" height="20" fill="#000"/>
<rect x="977" y="244" width="9" height="18" fill="#00ff00"/>
<rect x="997" y="257" width="1" height="9" fill="#000"/>
<rect x="992" y="262" width="11" height="3" fill="#000"/>
<rect x="993" y="263" width="9" height="1" fill="#00ff00"/>
<rect x="1013" y="252" width="1" height="54" fill="#000"/>
<rect x="1008" y="264" width="11" height="37" fill="#000"/>
<rect x="1009" y="265" width="9" height="35" fill="#00ff00"/>
<rect x="1029" y="278" width="1" height="107" fill="#000"/>
<rect x="1024" y="300" width="11" height="77" fill="#000"/>
<rect x="1025" y="301" width="9" height="75" fill="#00ff00"/>
<rect x="1045" y="376" width="1" height="32" fill="#000"/>
<rect x="1040" y="377" width="11" height="26" fill="#000"/>
<rect x="1041" y="378" width="9" height="24" fill="#00ff00"/>
<rect x="1061" y="395" width="1" height="45" fill="#000"/>
<rect x="1056" y="402" width="11" height="30" fill="#000"/>
<rect x="1057" y="403" width="9" height="28" fill="#00ff00"/>
<rect x="1077" y="422" width="1" height="23" fill="#000"/>
<rect x="1072" y="427" width="11" height="5" fill="#000"/>
<rect x="1073" y="428" width="9" height="3" fill="#ff0000"/>
<rect x="1093" y="411" width="1" height="19" fill="#000"/>
<rect x="1088" y="419" width="11" height="9" fill="#000"/>
<rect x="1089" y="420" width="9" height="7" fill="#ff0000"/>
<rect x="1109" y="400" width="1" height="69" fill="#000"/>
<rect x="1104" y="419" width="11" height="40" fill="#000"/>
<rect x="1105" y="420" width="9" height="38" fill="#00ff00"/>
<rect x="1125" y="457" width="1" height="46" fill="#000"/>
<rect x="1120" y="459" width="11" height="19" fill="#000"/>
<rect x="1121" y="460" width="9" height="17" fill="#00ff00"/>
<rect x="1141" y="459" width="1" height="33" fill="#000"/>
<rect x="1136" y="477" width="11" height="8" fill="#000"/>
<rect x="1137" y="478" width="9" height="6" fill="#00ff00"/>
<rect x="1157" y="473" width="1" height="90" fill="#000"/>
<rect x="1152" y="485" width="11" height="56" fill="#000"/>
<rect x="1153" y="486" width="9" height="54" fill="#00ff00"/>
<rect x="1173" y="520" width="1" height="27" fill="#000"/>
<rect x="1168" y="537" width="11" height="4" fill="#000"/>
<rect x="1169" y="538" width="9" height="2" fill="#ff0000"/>
<rect x="1189" y="533" width="1" height="15" fill="#000"/>
<rect x="1184" y="537" width="11" height="3" fill="#000"/>
<rect x="1185" y="538" width="9" height="1" fill="#00ff00"/>
<rect x="1205" y="517" width="1" height="45" fill="#000"/>
<rect x="1200" y="539" width="11" height="9" fill="#000"/>
<rect x="1201" y="540" width="9" height="7" fill="#00ff00"/>
<rect x="1221" y="538" width="1" height="34" fill="#000"/>
<rect x="1216" y="547" width="11" height="14" fill="#000"/>
<rect x="1217" y="548" width="9" height="12" fill="#00ff00"/>
<rect x="1237" y="542" width="1" height="42" fill="#000"/>
<rect x="1232" y="560" width="11" height="1" fill="#000"/>
<rect x="1253" y="512" width="1" height="56" fill="#000"/>
<rect x="1248" y="522" width="11" height="39" fill="#000"/>
<rect x="1249" y="523" width="9" height="37" fill="#ff0000"/>
<rect x="1269" y="496" width="1" height="44" fill="#000"/>
<rect x="1264" y="522" width="11" height="12" fill="#000"/>
<rect x="1265" y="523" width="9" height="10" fill="#00ff00"/>
<rect x="1285" y="519" width="1" height="16" fill="#000"/>
<rect x="1280" y="525" width="11" height="9" fill="#000"/>
<rect x="1281" y="526" width="9" height="7" fill="#ff0000"/>
<rect x="5" y="447" width="1639" height="2" fill="#ff0000"/>
<rect x="5" y="481" width="1639" height="2" fill="#ff0000"/>
<rect x="5" y="515" width="1639" height="2" fill="#cd853f"/>
<rect x="5" y="555" width="1639" height="2" fill="#0000ff"/>
<rect x="5" y="586" width="1639" height="2" fill="#0000ff"/>
<rect x="5" y="624" width="2" height="32" fill="#00ff00"/>
<rect x="20" y="627" width="3" height="29" fill="#00ff00"/>
<rect x="36" y="631" width="3" height="25" fill="#00ff00"/>
<rect x="52" y="633" width="3" height="23" fill="#00ff00"/>
<rect x="68" y="636" width="3" height="20" fill="#00ff00"/>
<rect x="84" y="639" width="3" height="17" fill="#00ff00"/>
<rect x="100" y="641" width="3" height="15" fill="#00ff00"/>
<rect x="116" y="643" width="3" height="13" fill="#00ff00"/>
<rect x="132" y="644" width="3" height="12" fill="#00ff00"/>
<rect x="148" y="648" width="3" height="8" fill="#00ff00"/>
<rect x="164" y="651" width="3" height="5" fill="#00ff00"/>
<rect x="180" y="656" width="3" height="1" fill="#00ff00"/>
<rect x="196" y="656" width="3" height="4" fill="#00ff00"/>
<rect x="212" y="656" width="3" height="6" fill="#00ff00"/>
<rect x="228" y="656" width="3" height="8" fill="#00ff00"/>
<rect x="244" y="656" width="3" height="3" fill="#00ff00"/>
<rect x="260" y="656" width="3" height="2" fill="#00ff00"/>
<rect x="276" y="653" width="3" height="3" fill="#00ff00"/>
<rect x="292" y="656" width="3" height="2" fill="#00ff00"/>
<rect x="308" y="656" width="3" height="2" fill="#00ff00"/>
<rect x="324" y="656" width="3" height="4" fill="#00ff00"/>
<rect x="340" y="656" width="3" height="6" fill="#00ff00"/>
<rect x="356" y="656" width="3" height="9" fill="#00ff00"/>
<rect x="372" y="656" width="3" height="13" fill="#00ff00"/>
<rect x="388" y="656" width="3" height="16" fill="#00ff00"/>
<rect x="404" y="656" width="3" height="19" fill="#00ff00"/>
<rect x="420" y="656" width="3" height="21" fill="#00ff00"/>
<rect x="436" y="656" width="3" height="22" fill="#00ff00"/>
<rect x="452" y="656" width="3" height="23" fill="#00ff00"/>
<rect x="468" y="656" width="3" height="22" fill="#00ff00"/>
<rect x="484" y="656" width="3" height="20" fill="#00ff00"/>
<rect x="500" y="656" width="3" height="19" fill="#00ff00"/>
<rect x="516" y="656" width="3" height="20" fill="#00ff00"/>
<rect x="532" y="656" width="3" height="17" fill="#00ff00"/>
<rect x="548" y="656" width="3" height="14" fill="#00ff00"/>
<rect x="564" y="656" width="3" height="12" fill="#00ff00"/>
<rect x="580" y="656" width="3" height="8" fill="#00ff00"/>
<rect x="596" y="656" width="3" height="5" fill="#00ff00"/>
<rect x="612" y="656" width="3" height="2" fill="#00ff00"/>
<rect x="628" y="656" width="3" height="3" fill="#00ff00"/>
<rect x="644" y="656" width="3" height="3" fill="#00ff00"/>
<rect x="660" y="656" width="3" height="5" fill="#00ff00"/>
<rect x="676" y="656" width="3" height="6" fill="#00ff00"/>
<rect x="692" y="656" width="3" height="4" fill="#00ff00"/>
<rect x="708" y="656" width="3" height="3" fill="#00ff00"/>
<rect x="724" y="655" width="3" height="1" fill="#00ff00"/>
<rect x="740" y="651" width="3" height="5" fill="#00ff00"/>
<rect x="756" y="649" width="3" height="7" fill="#00ff00"/>
<rect x="772" y="653" width="3" height="3" fill="#00ff00"/>
<rect x="788" y="656" width="3" height="5" fill="#00ff00"/>
<rect x="804" y="656" width="3" height="10" fill="#00ff00"/>
<rect x="820" y="656" width="3" height="17" fill="#00ff00"/>
<rect x="836" y="656" width="3" height="27" fill="#00ff00"/>
<rect x="852" y="656" width="3" height="30" fill="#00ff00"/>
<rect x="868" y="656" width="3" height="32" fill="#00ff00"/>
<rect x="884" y="656" width="3" height="35" fill="#00ff00"/>
<rect x="900" y="656" width="3" height="37" fill="#00ff00"/>
<rect x="916" y="656" width="3" height="36" fill="#00ff00"/>
<rect x="932" y="656" width="3" height="33" fill="#00ff00"/>
<rect x="948" y="656" width="3" height="29" fill="#00ff00"/>
<rect x="964" y="656" width="3" height="24" fill="#00ff00"/>
<rect x="980" y="656" width="3" height="20" fill="#00ff00"/>
<rect x="996" y="656" width="3" height="18" fill="#00ff00"/>
<rect x="1012" y="656" width="3" height="18" fill="#00ff00"/>
<rect x="1028" y="656" width="3" height="22" fill="#00ff00"/>
<rect x="1044" y="656" width="3" height="25" fill="#00ff00"/>
<rect x="1060" y="656" width="3" height="31" fill="#00ff00"/>
<rect x="1076" y="656" width="3" height="35" fill="#00ff00"/>
<rect x="1092" y="656" width="3" height="36" fill="#00ff00"/>
<rect x="1108" y="656" width="3" height="40" fill="#00ff00"/>
<rect x="1124" y="656" width="3" height="43" fill="#00ff00"/>
<rect x="1140" y="656" width="3" height="46" fill="#00ff00"/>
<rect x="1156" y="656" width="3" height="50" fill="#00ff00"/>
<rect x="1172" y="656" width="3" height="53" fill="#00ff00"/>
<rect x="1188" y="656" width="3" height="55" fill="#00ff00"/>
<rect x="1204" y="656" width="3" height="57" fill="#00ff00"/>
<rect x="1220" y="656" width="3" height="58" fill="#00ff00"/>
<rect x="1236" y="656" width="3" height="58" fill="#00ff00"/>
<rect x="1252" y="656" width="3" height="55" fill="#00ff00"/>
<rect x="1268" y="656" width="3" height="52" fill="#00ff00"/>
<rect x="1284" y="656" width="3" height="51" fill="#00ff00"/>
</g>
<polyline points="5.0,606.4 21.0,610.2 37.0,615.3 53.0,619.1 69.0,623.5 85.0,626.8 101.0,630.6 117.0,633.6 133.0,635.7 149.0,638.7 165.0,641.5 181.0,643.3 197.0,646.6 213.0,649.1 229.0,651.9 245.0,654.7 261.0,655.7 277.0,656.8 293.0,657.5 309.0,657.8 325.0,657.8 341.0,658.0 357.0,658.5 373.0,659.0 389.0,661.0 405.0,663.6 421.0,665.3 437.0,668.7 453.0,670.7 469.0,672.5 485.0,673.3 501.0,674.8 517.0,675.8 533.0,675.8 549.0,675.6 565.0,674.5 581.0,673.5 597.0,671.2 613.0,668.7 629.0,666.4 645.0,664.4 661.0,663.1 677.0,661.1 693.0,660.3 709.0,659.3 725.0,658.0 741.0,657.3 757.0,656.2 773.0,655.7 789.0,656.2 805.0,657.0 821.0,657.5 837.0,661.3 853.0,664.1 869.0,667.4 885.0,672.0 901.0,676.3 917.0,680.6 933.0,684.5 949.0,685.7 965.0,685.7 981.0,685.7 997.0,684.2 1013.0,683.2 1029.0,681.4 1045.0,680.4 1061.0,679.6 1077.0,680.1 1093.0,681.4 1109.0,682.2 1125.0,685.0 1141.0,688.3 1157.0,692.6 1173.0,695.9 1189.0,698.7 1205.0,701.5 1221.0,704.4 1237.0,706.2 1253.0,707.8 1269.0,709.0 1285.0,709.9" fill="none" stroke="#ff0000" stroke-width="2" stroke-linejoin="round" shape-rendering="crispEdges"/>
<polyline points="5.0,768.8 21.0,768.8 37.0,771.9 53.0,768.8 69.0,774.4 85.0,774.9 101.0,772.6 117.0,772.6 133.0,772.6 149.0,781.5 165.0,781.5 181.0,787.9 197.0,787.9 213.0,784.1 229.0,784.1 245.0,765.5 261.0,767.8 277.0,767.8 293.0,780.5 309.0,780.5 325.0,781.5 341.0,782.3 357.0,786.1 373.0,790.9 389.0,790.9 405.0,791.7 421.0,793.0 437.0,788.9 453.0,788.6 469.0,784.8 485.0,783.1 501.0,786.6 517.0,787.9 533.0,774.9 549.0,774.9 565.0,774.9 581.0,766.5 597.0,767.6 613.0,767.8 629.0,776.7 645.0,776.7 661.0,783.1 677.0,779.2 693.0,775.9 709.0,777.0 725.0,763.0 741.0,763.0 757.0,766.8 773.0,783.6 789.0,789.9 805.0,789.2 821.0,795.5 837.0,799.3 853.0,788.9 869.0,788.9 885.0,790.9 901.0,789.4 917.0,785.3 933.0,782.3 949.0,778.5 965.0,773.7 981.0,775.9 997.0,776.4 1013.0,781.0 1029.0,789.4 1045.0,792.5 1061.0,793.7 1077.0,793.7 1093.0,793.0 1109.0,796.8 1125.0,797.5 1141.0,798.0 1157.0,801.6 1173.0,801.6 1189.0,801.6 1205.0,802.6 1221.0,802.9 1237.0,802.9 1253.0,794.7 1269.0,794.5 1285.0,793.9" fill="none" stroke="#1e90ff" stroke-width="2" stroke-linejoin="round" shape-rendering="crispEdges"/>
<line x1="1187" y1="389.8" x2="1288" y2="441.5" stroke="#4c9a2a" stroke-width="2.8"/>
<polygon points="1289.6,433.2 1281.7,449.3 1301,449.6" fill="#4c9a2a"/>
<g shape-rendering="crispEdges">
<line x1="6" y1="744.5" x2="1644" y2="744.5" stroke="#000" stroke-width="1" stroke-dasharray="3 3"/>
<line x1="6" y1="775.5" x2="1644" y2="775.5" stroke="#000" stroke-width="1" stroke-dasharray="3 3"/>
<line x1="6" y1="813.5" x2="1644" y2="813.5" stroke="#000" stroke-width="1" stroke-dasharray="3 3"/>
<rect x="4" y="28" width="1641" height="1" fill="#000"/>
<rect x="4" y="597" width="1641" height="1" fill="#000"/>
<rect x="4" y="28" width="1" height="570" fill="#000"/>
<rect x="1644" y="28" width="1" height="570" fill="#000"/>
<rect x="4" y="599" width="1641" height="1" fill="#000"/>
<rect x="4" y="719" width="1641" height="1" fill="#000"/>
<rect x="4" y="599" width="1" height="121" fill="#000"/>
<rect x="1644" y="599" width="1" height="121" fill="#000"/>
<rect x="4" y="721" width="1641" height="1" fill="#000"/>
<rect x="4" y="829" width="1641" height="1" fill="#000"/>
<rect x="4" y="721" width="1" height="109" fill="#000"/>
<rect x="1644" y="721" width="1" height="109" fill="#000"/>
<rect x="4" y="445" width="6" height="6" fill="#ff0000"/>
<rect x="6" y="447" width="2" height="2" fill="#fff"/>
<rect x="1638" y="445" width="6" height="6" fill="#ff0000"/>
<rect x="1640" y="447" width="2" height="2" fill="#fff"/>
<rect x="4" y="479" width="6" height="6" fill="#ff0000"/>
<rect x="6" y="481" width="2" height="2" fill="#fff"/>
<rect x="1638" y="479" width="6" height="6" fill="#ff0000"/>
<rect x="1640" y="481" width="2" height="2" fill="#fff"/>
<rect x="4" y="513" width="6" height="6" fill="#cd853f"/>
<rect x="6" y="515" width="2" height="2" fill="#fff"/>
<rect x="1638" y="513" width="6" height="6" fill="#cd853f"/>
<rect x="1640" y="515" width="2" height="2" fill="#fff"/>
<rect x="4" y="553" width="6" height="6" fill="#0000ff"/>
<rect x="6" y="555" width="2" height="2" fill="#fff"/>
<rect x="1638" y="553" width="6" height="6" fill="#0000ff"/>
<rect x="1640" y="555" width="2" height="2" fill="#fff"/>
<rect x="4" y="584" width="6" height="6" fill="#0000ff"/>
<rect x="6" y="586" width="2" height="2" fill="#fff"/>
<rect x="1638" y="584" width="6" height="6" fill="#0000ff"/>
<rect x="1640" y="586" width="2" height="2" fill="#fff"/>
<rect x="1310" y="29" width="9" height="1" fill="#000"/>
<rect x="1311" y="30" width="7" height="1" fill="#000"/>
<rect x="1312" y="31" width="5" height="1" fill="#000"/>
<rect x="1313" y="32" width="3" height="1" fill="#000"/>
<rect x="1314" y="33" width="1" height="1" fill="#000"/>
<rect x="1645" y="33" width="2" height="1" fill="#000"/>
<rect x="1645" y="66" width="2" height="1" fill="#000"/>
<rect x="1645" y="99" width="2" height="1" fill="#000"/>
<rect x="1645" y="132" width="2" height="1" fill="#000"/>
<rect x="1645" y="165" width="2" height="1" fill="#000"/>
<rect x="1645" y="198" width="2" height="1" fill="#000"/>
<rect x="1645" y="231" width="2" height="1" fill="#000"/>
<rect x="1645" y="264" width="2" height="1" fill="#000"/>
<rect x="1645" y="297" width="2" height="1" fill="#000"/>
<rect x="1645" y="330" width="2" height="1" fill="#000"/>
<rect x="1645" y="363" width="2" height="1" fill="#000"/>
<rect x="1645" y="396" width="2" height="1" fill="#000"/>
<rect x="1645" y="429" width="2" height="1" fill="#000"/>
<rect x="1645" y="462" width="2" height="1" fill="#000"/>
<rect x="1645" y="495" width="2" height="1" fill="#000"/>
<rect x="1645" y="528" width="2" height="1" fill="#000"/>
<rect x="1645" y="561" width="2" height="1" fill="#000"/>
<rect x="1645" y="594" width="2" height="1" fill="#000"/>
<rect x="1645" y="599" width="2" height="1" fill="#000"/>
<rect x="1645" y="656" width="2" height="1" fill="#000"/>
<rect x="1645" y="719" width="2" height="1" fill="#000"/>
<rect x="1645" y="721" width="2" height="1" fill="#000"/>
<rect x="1645" y="829" width="2" height="1" fill="#000"/>
<rect x="5" y="830" width="1" height="3" fill="#000"/>
<rect x="69" y="830" width="1" height="3" fill="#000"/>
<rect x="133" y="830" width="1" height="3" fill="#000"/>
<rect x="197" y="830" width="1" height="3" fill="#000"/>
<rect x="261" y="830" width="1" height="3" fill="#000"/>
<rect x="325" y="830" width="1" height="3" fill="#000"/>
<rect x="389" y="830" width="1" height="3" fill="#000"/>
<rect x="453" y="830" width="1" height="3" fill="#000"/>
<rect x="517" y="830" width="1" height="3" fill="#000"/>
<rect x="581" y="830" width="1" height="3" fill="#000"/>
<rect x="645" y="830" width="1" height="3" fill="#000"/>
<rect x="709" y="830" width="1" height="3" fill="#000"/>
<rect x="773" y="830" width="1" height="3" fill="#000"/>
<rect x="837" y="830" width="1" height="3" fill="#000"/>
<rect x="901" y="830" width="1" height="3" fill="#000"/>
<rect x="965" y="830" width="1" height="3" fill="#000"/>
<rect x="1029" y="830" width="1" height="3" fill="#000"/>
<rect x="1093" y="830" width="1" height="3" fill="#000"/>
<rect x="1157" y="830" width="1" height="3" fill="#000"/>
<rect x="1221" y="830" width="1" height="3" fill="#000"/>
<rect x="1285" y="830" width="1" height="3" fill="#000"/>
</g>
<text x="1650" y="37" font-size="10.1" fill="#000" stroke="#000" stroke-width="0.25" textLength="33" lengthAdjust="spacingAndGlyphs">0.68605</text>
<text x="1650" y="70" font-size="10.1" fill="#000" stroke="#000" stroke-width="0.25" textLength="33" lengthAdjust="spacingAndGlyphs">0.68400</text>
<text x="1650" y="103" font-size="10.1" fill="#000" stroke="#000" stroke-width="0.25" textLength="33" lengthAdjust="spacingAndGlyphs">0.68190</text>
<text x="1650" y="136" font-size="10.1" fill="#000" stroke="#000" stroke-width="0.25" textLength="33" lengthAdjust="spacingAndGlyphs">0.67980</text>
<text x="1650" y="169" font-size="10.1" fill="#000" stroke="#000" stroke-width="0.25" textLength="33" lengthAdjust="spacingAndGlyphs">0.67770</text>
<text x="1650" y="202" font-size="10.1" fill="#000" stroke="#000" stroke-width="0.25" textLength="33" lengthAdjust="spacingAndGlyphs">0.67560</text>
<text x="1650" y="235" font-size="10.1" fill="#000" stroke="#000" stroke-width="0.25" textLength="33" lengthAdjust="spacingAndGlyphs">0.67355</text>
<text x="1650" y="268" font-size="10.1" fill="#000" stroke="#000" stroke-width="0.25" textLength="33" lengthAdjust="spacingAndGlyphs">0.67145</text>
<text x="1650" y="301" font-size="10.1" fill="#000" stroke="#000" stroke-width="0.25" textLength="33" lengthAdjust="spacingAndGlyphs">0.66935</text>
<text x="1650" y="334" font-size="10.1" fill="#000" stroke="#000" stroke-width="0.25" textLength="33" lengthAdjust="spacingAndGlyphs">0.66725</text>
<text x="1650" y="367" font-size="10.1" fill="#000" stroke="#000" stroke-width="0.25" textLength="33" lengthAdjust="spacingAndGlyphs">0.66520</text>
<text x="1650" y="400" font-size="10.1" fill="#000" stroke="#000" stroke-width="0.25" textLength="33" lengthAdjust="spacingAndGlyphs">0.66310</text>
<text x="1650" y="433" font-size="10.1" fill="#000" stroke="#000" stroke-width="0.25" textLength="33" lengthAdjust="spacingAndGlyphs">0.66100</text>
<text x="1650" y="466" font-size="10.1" fill="#000" stroke="#000" stroke-width="0.25" textLength="33" lengthAdjust="spacingAndGlyphs">0.65890</text>
<text x="1650" y="499" font-size="10.1" fill="#000" stroke="#000" stroke-width="0.25" textLength="33" lengthAdjust="spacingAndGlyphs">0.65680</text>
<text x="1650" y="532" font-size="10.1" fill="#000" stroke="#000" stroke-width="0.25" textLength="33" lengthAdjust="spacingAndGlyphs">0.65475</text>
<text x="1650" y="565" font-size="10.1" fill="#000" stroke="#000" stroke-width="0.25" textLength="33" lengthAdjust="spacingAndGlyphs">0.65265</text>
<text x="1650" y="598" font-size="10.1" fill="#000" stroke="#000" stroke-width="0.25" textLength="33" lengthAdjust="spacingAndGlyphs">0.65055</text>
<text x="1648.2" y="610" font-size="10.1" fill="#000" stroke="#000" stroke-width="0.25" textLength="37.2" lengthAdjust="spacingAndGlyphs">0.004765</text>
<text x="1648.2" y="660" font-size="10.1" fill="#000" stroke="#000" stroke-width="0.25" textLength="17.5" lengthAdjust="spacingAndGlyphs">0.00</text>
<text x="1648.2" y="716" font-size="10.1" fill="#000" stroke="#000" stroke-width="0.25" textLength="40.5" lengthAdjust="spacingAndGlyphs">-0.005276</text>
<text x="1648.2" y="732" font-size="10.1" fill="#000" stroke="#000" stroke-width="0.25" textLength="14.5" lengthAdjust="spacingAndGlyphs">100</text>
<text x="1647.6" y="748" font-size="10.1" fill="#000" stroke="#000" stroke-width="0.25" textLength="9.5" lengthAdjust="spacingAndGlyphs">80</text>
<text x="1647.6" y="779" font-size="10.1" fill="#000" stroke="#000" stroke-width="0.25" textLength="9.5" lengthAdjust="spacingAndGlyphs">50</text>
<text x="1648.2" y="817" font-size="10.1" fill="#000" stroke="#000" stroke-width="0.25" textLength="9" lengthAdjust="spacingAndGlyphs">15</text>
<text x="1648.2" y="826.5" font-size="10.1" fill="#000" stroke="#000" stroke-width="0.25" textLength="4.6" lengthAdjust="spacingAndGlyphs">0</text>
<rect x="1646" y="442" width="41" height="11" fill="#ff0000" shape-rendering="crispEdges"/>
<text x="1650" y="451" font-size="10.1" fill="#fff" stroke="#fff" stroke-width="0.25" textLength="33" lengthAdjust="spacingAndGlyphs">0.65982</text>
<rect x="1646" y="476" width="41" height="11" fill="#ff0000" shape-rendering="crispEdges"/>
<text x="1650" y="485" font-size="10.1" fill="#fff" stroke="#fff" stroke-width="0.25" textLength="33" lengthAdjust="spacingAndGlyphs">0.65767</text>
<rect x="1646" y="520" width="41" height="11" fill="#000" shape-rendering="crispEdges"/>
<text x="1650" y="529" font-size="10.1" fill="#fff" stroke="#fff" stroke-width="0.25" textLength="33" lengthAdjust="spacingAndGlyphs">0.65494</text>
<rect x="1646" y="510" width="41" height="11" fill="#cd853f" shape-rendering="crispEdges"/>
<text x="1650" y="519" font-size="10.1" fill="#fff" stroke="#fff" stroke-width="0.25" textLength="33" lengthAdjust="spacingAndGlyphs">0.65552</text>
<rect x="1646" y="550" width="41" height="11" fill="#0000ff" shape-rendering="crispEdges"/>
<text x="1650" y="559" font-size="10.1" fill="#fff" stroke="#fff" stroke-width="0.25" textLength="33" lengthAdjust="spacingAndGlyphs">0.65299</text>
<rect x="1646" y="581" width="41" height="11" fill="#0000ff" shape-rendering="crispEdges"/>
<text x="1650" y="590" font-size="10.1" fill="#fff" stroke="#fff" stroke-width="0.25" textLength="33" lengthAdjust="spacingAndGlyphs">0.65102</text>
<polygon points="8,34.5 15.5,34.5 11.75,38.5" fill="#000"/>
<text x="20.8" y="40" font-size="10.1" fill="#000" stroke="#000" stroke-width="0.25" textLength="57.8" lengthAdjust="spacingAndGlyphs">AUDUSD-,H4</text>
<text x="85.2" y="40" font-size="10.1" fill="#000" stroke="#000" stroke-width="0.25" textLength="140.6" lengthAdjust="spacingAndGlyphs">0.65443 0.65530 0.65438 0.65494</text>
<text x="9.2" y="612" font-size="10.1" fill="#000" stroke="#000" stroke-width="0.25" textLength="65.2" lengthAdjust="spacingAndGlyphs">MACD(12,26,9)</text>
<text x="78.7" y="612" font-size="10.1" fill="#000" stroke="#000" stroke-width="0.25" textLength="39.3" lengthAdjust="spacingAndGlyphs">-0.004190</text>
<text x="122.3" y="612" font-size="10.1" fill="#000" stroke="#000" stroke-width="0.25" textLength="40.8" lengthAdjust="spacingAndGlyphs">-0.004521</text>
<text x="9.2" y="734" font-size="10.1" fill="#000" stroke="#000" stroke-width="0.25" textLength="31.7" lengthAdjust="spacingAndGlyphs">RSI(14)</text>
<text x="44.1" y="734" font-size="10.1" fill="#000" stroke="#000" stroke-width="0.25" textLength="32.8" lengthAdjust="spacingAndGlyphs">33.6385</text>
<text x="4.7" y="842" font-size="10.1" fill="#000" stroke="#000" stroke-width="0.25" textLength="45.8" lengthAdjust="spacingAndGlyphs">17 Jul 2023</text>
<text x="68.7" y="842" font-size="10.1" fill="#000" stroke="#000" stroke-width="0.25" textLength="49.8" lengthAdjust="spacingAndGlyphs">18 Jul 04:00</text>
<text x="132.7" y="842" font-size="10.1" fill="#000" stroke="#000" stroke-width="0.25" textLength="49.8" lengthAdjust="spacingAndGlyphs">18 Jul 20:00</text>
<text x="196.7" y="842" font-size="10.1" fill="#000" stroke="#000" stroke-width="0.25" textLength="49.8" lengthAdjust="spacingAndGlyphs">19 Jul 12:00</text>
<text x="260.7" y="842" font-size="10.1" fill="#000" stroke="#000" stroke-width="0.25" textLength="49.8" lengthAdjust="spacingAndGlyphs">20 Jul 04:00</text>
<text x="324.7" y="842" font-size="10.1" fill="#000" stroke="#000" stroke-width="0.25" textLength="49.8" lengthAdjust="spacingAndGlyphs">20 Jul 20:00</text>
<text x="388.7" y="842" font-size="10.1" fill="#000" stroke="#000" stroke-width="0.25" textLength="49.8" lengthAdjust="spacingAndGlyphs">21 Jul 12:00</text>
<text x="452.7" y="842" font-size="10.1" fill="#000" stroke="#000" stroke-width="0.25" textLength="49.8" lengthAdjust="spacingAndGlyphs">24 Jul 04:00</text>
<text x="516.7" y="842" font-size="10.1" fill="#000" stroke="#000" stroke-width="0.25" textLength="49.8" lengthAdjust="spacingAndGlyphs">24 Jul 20:00</text>
<text x="580.7" y="842" font-size="10.1" fill="#000" stroke="#000" stroke-width="0.25" textLength="49.8" lengthAdjust="spacingAndGlyphs">25 Jul 12:00</text>
<text x="644.7" y="842" font-size="10.1" fill="#000" stroke="#000" stroke-width="0.25" textLength="49.8" lengthAdjust="spacingAndGlyphs">26 Jul 04:00</text>
<text x="708.7" y="842" font-size="10.1" fill="#000" stroke="#000" stroke-width="0.25" textLength="49.8" lengthAdjust="spacingAndGlyphs">26 Jul 20:00</text>
<text x="772.7" y="842" font-size="10.1" fill="#000" stroke="#000" stroke-width="0.25" textLength="49.8" lengthAdjust="spacingAndGlyphs">27 Jul 12:00</text>
<text x="836.7" y="842" font-size="10.1" fill="#000" stroke="#000" stroke-width="0.25" textLength="49.8" lengthAdjust="spacingAndGlyphs">28 Jul 04:00</text>
<text x="900.7" y="842" font-size="10.1" fill="#000" stroke="#000" stroke-width="0.25" textLength="49.8" lengthAdjust="spacingAndGlyphs">30 Jul 23:00</text>
<text x="964.7" y="842" font-size="10.1" fill="#000" stroke="#000" stroke-width="0.25" textLength="49.8" lengthAdjust="spacingAndGlyphs">31 Jul 12:00</text>
<text x="1028.7" y="842" font-size="10.1" fill="#000" stroke="#000" stroke-width="0.25" textLength="50.3" lengthAdjust="spacingAndGlyphs">1 Aug 04:00</text>
<text x="1092.7" y="842" font-size="10.1" fill="#000" stroke="#000" stroke-width="0.25" textLength="50.3" lengthAdjust="spacingAndGlyphs">1 Aug 20:00</text>
<text x="1156.7" y="842" font-size="10.1" fill="#000" stroke="#000" stroke-width="0.25" textLength="50.3" lengthAdjust="spacingAndGlyphs">2 Aug 12:00</text>
<text x="1220.7" y="842" font-size="10.1" fill="#000" stroke="#000" stroke-width="0.25" textLength="50.3" lengthAdjust="spacingAndGlyphs">3 Aug 04:00</text>
<text x="1284.7" y="842" font-size="10.1" fill="#000" stroke="#000" stroke-width="0.25" textLength="50.3" lengthAdjust="spacingAndGlyphs">3 Aug 20:00</text>
</svg></body></html>
